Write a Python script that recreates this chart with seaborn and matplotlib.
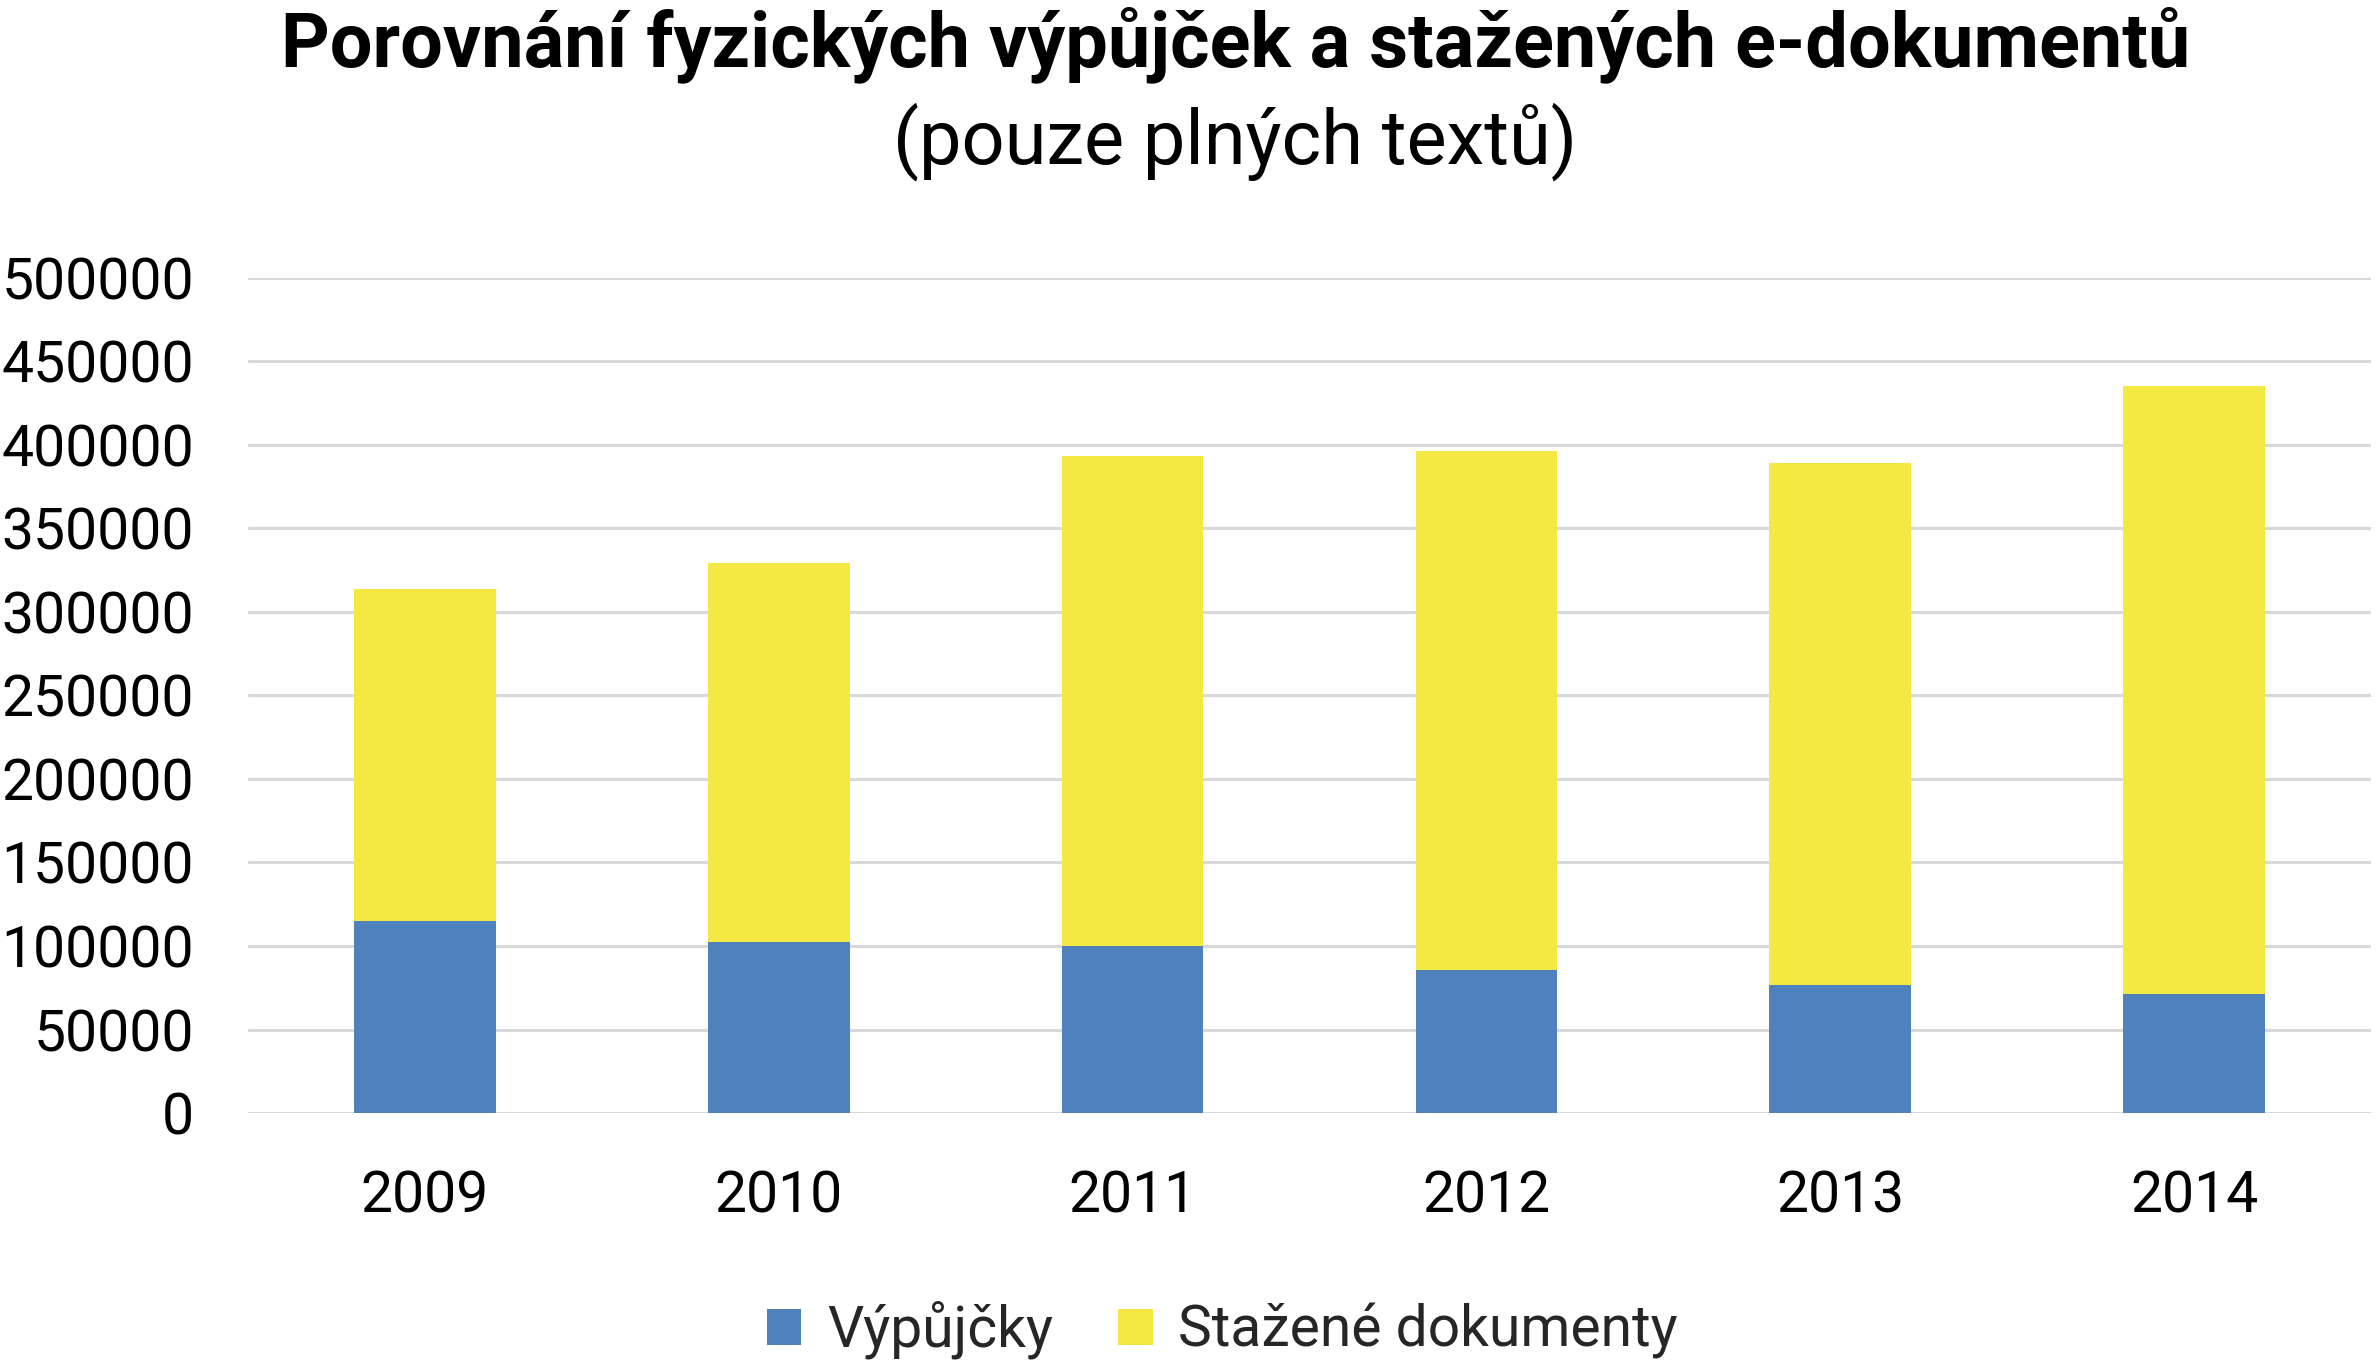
import matplotlib
matplotlib.use("Agg")
import matplotlib.pyplot as plt
import seaborn as sns
import pandas as pd
from matplotlib.patches import Patch

years = ["2009", "2010", "2011", "2012", "2013", "2014"]
vypujcky = [115200, 102400, 100200, 85500, 76900, 71500]
stazene = [198800, 226900, 293400, 311100, 312500, 364000]
series_names = ["Výpůjčky", "Stažené dokumenty"]
yticks = [0, 50000, 100000, 150000, 200000, 250000, 300000, 350000, 400000, 450000, 500000]

blue = "#4F81BD"
yellow = "#F3E942"

sns.set_theme(style="white")
plt.rcParams['font.family'] = ['Roboto', 'DejaVu Sans']

df = pd.DataFrame({"year": years, "vyp": vypujcky, "staz": stazene})
df["total"] = df["vyp"] + df["staz"]

fig = plt.figure(figsize=(23.76, 13.69), dpi=100)
ax = fig.add_axes([248/2376, 1 - 1113/1369, (2371-248)/2376, (1113-278)/1369])

sns.barplot(data=df, x="year", y="total", color=yellow, width=0.4, ax=ax,
            saturation=1, edgecolor="none", zorder=2)
sns.barplot(data=df, x="year", y="vyp", color=blue, width=0.4, ax=ax,
            saturation=1, edgecolor="none", zorder=3)

ax.set_ylim(0, 500000)
ax.set_xlim(-0.5, 5.5)
ax.set_yticks(yticks)
ax.set_yticklabels([str(v) for v in yticks])
ax.set_xlabel("")
ax.set_ylabel("")
ax.yaxis.grid(True, color="#D9D9D9", linewidth=2.2, zorder=0)
ax.set_axisbelow(True)
for s in ax.spines.values():
    s.set_visible(False)
ax.tick_params(axis="y", labelsize=41, pad=39, length=0)
ax.tick_params(axis="x", labelsize=41, pad=41, length=0)
for lab in ax.get_yticklabels() + ax.get_xticklabels():
    lab.set_color("black")

fig.text(0.52, 1 - 45/1369, "Porovnání fyzických výpůjček a stažených e-dokumentů",
         ha="center", va="center", fontsize=54.5, fontweight="bold", color="black")
fig.text(0.52, 1 - 142/1369, "(pouze plných textů)",
         ha="center", va="center", fontsize=54.5, color="black")

handles = [Patch(facecolor=blue, edgecolor="none"), Patch(facecolor=yellow, edgecolor="none")]
fig.legend(handles, series_names, loc="center", bbox_to_anchor=(0.5145, 1 - 1330/1369),
           ncol=2, frameon=False, fontsize=41, handlelength=0.6, handleheight=0.6,
           handletextpad=0.45, columnspacing=1.15)

fig.savefig("out.png", dpi=100)
